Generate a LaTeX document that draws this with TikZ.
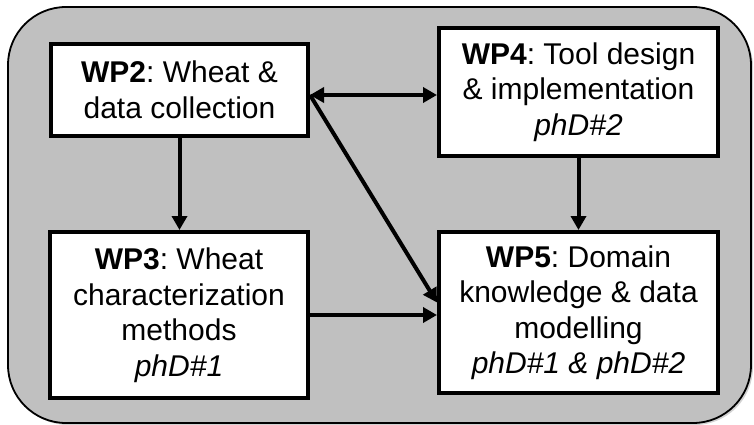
\documentclass[tikz,border=0pt]{standalone}
\usepackage{fontspec}
\setmainfont{Liberation Sans}
\usetikzlibrary{arrows.meta,shadows}
\definecolor{panelgray}{RGB}{192,192,192}
\tikzset{
  wpbox/.style={draw=black, fill=white, line width=4pt, align=center, inner sep=0pt,
    font=\fontsize{30}{35.5}\selectfont},
  conn/.style={line width=4pt, -{Triangle[length=14pt,width=15pt]}},
  conn2/.style={line width=4pt, {Triangle[length=14pt,width=15pt]}-{Triangle[length=14pt,width=15pt]}}
}
\begin{document}
\frenchspacing
\begin{tikzpicture}[x=1pt,y=-1pt]
\useasboundingbox (0,0) rectangle (754,425);
\path[draw=black, fill=panelgray, line width=1.8pt, rounded corners=58pt,
  drop shadow={shadow xshift=2pt, shadow yshift=-2pt, opacity=0.35}]
  (8,7) rectangle (751,423);
\node[wpbox, minimum width=257pt, minimum height=92pt] (wp2) at (179.5,90)
  {\textbf{WP2}: Wheat \&\\data collection};
\node[wpbox, minimum width=279pt, minimum height=128pt] (wp4) at (578.5,92)
  {\textbf{WP4}: Tool design\\\& implementation\\\textit{phD\#2}};
\node[wpbox, minimum width=258pt, minimum height=166pt] (wp3) at (179,315)
  {\textbf{WP3}: Wheat\\characterization\\methods\\\textit{phD\#1}};
\node[wpbox, minimum width=279pt, minimum height=161pt] (wp5) at (578.5,312.5)
  {\textbf{WP5}: Domain\\knowledge \& data\\modelling\\\textit{phD\#1 \& phD\#2}};
\coordinate (a) at ([yshift=-5pt]wp2.east);
\draw[conn2] (a) -- (a -| wp4.west);
\draw[conn] (wp2.south) -- (wp2.south |- wp3.north);
\draw[conn] (wp4.south) -- (wp4.south |- wp5.north);
\draw[conn] (wp3.east) -- (wp3.east -| wp5.west);
\draw[conn] (a) -- ([yshift=10pt]wp5.west);
\end{tikzpicture}
\end{document}
